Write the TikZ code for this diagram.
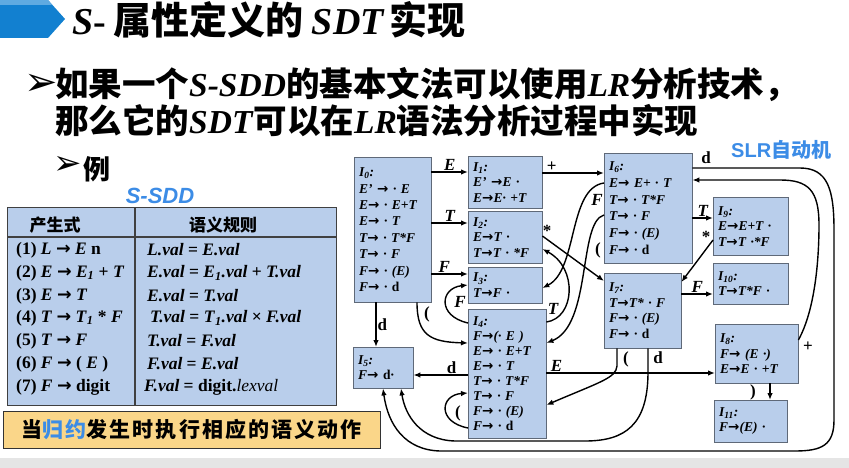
\documentclass[tikz,border=0pt]{standalone}
\usepackage{fontspec}
\setmainfont{Liberation Serif}
\newfontfamily\cjk{Noto Sans CJK SC}
\newfontfamily\cjkwide[LetterSpace=10]{Noto Sans CJK SC}
\newfontfamily\arial{Liberation Sans}
\newfontfamily\dingbat{DejaVu Sans}
\usetikzlibrary{arrows.meta}
\definecolor{boxfill}{RGB}{185,206,235}
\definecolor{boxline}{RGB}{95,105,120}
\definecolor{chevblue}{RGB}{18,128,208}
\definecolor{chevlight}{RGB}{95,170,225}
\definecolor{autoblue}{RGB}{60,140,230}
\definecolor{noteorange}{RGB}{250,214,137}
\newcommand\St[1]{I\textsubscript{#1}:}
\newcommand\zh[1]{{\cjk\bfseries #1}}
\newcommand\en[1]{\textbf{\textit{#1}}}
\newcommand\rarr{{\dingbat\upshape →}}

\begin{document}
\begin{tikzpicture}[
    x=1pt, y=-1pt,
    >={Latex[length=7pt,width=5.5pt]},
    edge/.style={->, line width=1.4pt},
    state/.style={draw=boxline, fill=boxfill, anchor=north west, align=left,
                  inner xsep=5pt, inner ysep=0pt,
                  font=\fontsize{13.5}{15.5}\selectfont\bfseries\itshape},
    lbl/.style={inner sep=1pt, font=\fontsize{17}{17}\selectfont\bfseries\itshape},
    row/.style={anchor=west, inner sep=0pt, font=\fontsize{17.5}{17.5}\selectfont\bfseries},
]
\useasboundingbox (0,0) rectangle (849,468);
\fill[black!10] (0,458) rectangle (849,468);

%% ── title and bullets ───────────────────────────────────────
\fill[chevblue] (0,0) -- (48,0) -- (65,19) -- (48,38) -- (0,38) -- cycle;
\fill[chevlight] (0,0) -- (48,0) -- (52,5) -- (0,5) -- cycle;
\node[anchor=base west, inner sep=0pt, font=\fontsize{38}{38}\selectfont] (title) at (72,35)
  {\en{S}\textbf{-}\hspace{8pt}\zh{属性定义的}\hspace{8pt}\en{SDT}\hspace{4pt}\zh{实现}};

\node[font=\fontsize{40}{40}\selectfont\dingbat] (b1) at (41,85) {➢};
\node[anchor=base west, inner sep=0pt, font=\fontsize{33.5}{33.5}\selectfont] (line1) at (55,97)
  {\zh{如果一个}\en{S-SDD}\zh{的基本文法可以使用}\en{LR}\zh{分析技术，}};
\node[anchor=base west, inner sep=0pt, font=\fontsize{33.5}{33.5}\selectfont] (line2) at (55,134)
  {\zh{那么它的}\en{SDT}\zh{可以在}\en{LR}\zh{语法分析过程中实现}};
\node[font=\fontsize{34}{34}\selectfont\dingbat] (b2) at (68,165) {➢};
\node[anchor=base west, inner sep=0pt, font=\fontsize{27}{27}\selectfont] (eg) at (83,179) {\zh{例}};

\node[anchor=base west, inner sep=0pt, text=autoblue, font=\fontsize{20}{20}\selectfont] (slr) at (731,158)
  {{\arial\bfseries SLR}\zh{自动机}};

%% ── S-SDD table ──────────────────────────────────────────────
\node[text=autoblue, font=\fontsize{22}{22}\selectfont\arial\bfseries\itshape] (sdd) at (160,196) {S-SDD};
\node[draw=black!75, line width=1.2pt, fill=boxfill, anchor=north west,
      minimum width=329pt, minimum height=198pt, inner sep=0pt] (tbl) at (7,207) {};
\draw[black!75, line width=1.5pt] (tbl.west |- 0,237) -- (tbl.east |- 0,237);
\draw[black!75, line width=1.2pt] (tbl.north -| 135,0) -- (tbl.south -| 135,0);
\node[font=\fontsize{17}{17}\selectfont] (hprod) at (55,225) {\zh{产生式}};
\node[font=\fontsize{17}{17}\selectfont] (hrule) at (223,225) {\zh{语义规则}};

\node[row] (p1) at (16,250) {(1) \textit{L} \rarr\ \textit{E} n};
\node[row] (p2) at (16,273) {(2) \textit{E} \rarr\ \textit{E}\textsubscript{\textit{1}} + \textit{T}};
\node[row] (p3) at (16,296) {(3) \textit{E} \rarr\ \textit{T}};
\node[row] (p4) at (16,318) {(4) \textit{T} \rarr\ \textit{T}\textsubscript{\textit{1}} * \textit{F}};
\node[row] (p5) at (16,341) {(5) \textit{T} \rarr\ \textit{F}};
\node[row] (p6) at (16,364) {(6) \textit{F} \rarr\ ( \textit{E} )};
\node[row] (p7) at (16,387) {(7) \textit{F} \rarr\ digit};

\node[row] (r1) at (147,250) {\textit{L.val} = \textit{E.val}};
\node[row] (r2) at (147,273) {\textit{E.val} = \textit{E}\textsubscript{\textit{1}}\textit{.val} + \textit{T.val}};
\node[row] (r3) at (147,296) {\textit{E.val} = \textit{T.val}};
\node[row] (r4) at (150,318) {\textit{T.val} = \textit{T}\textsubscript{\textit{1}}\textit{.val} × \textit{F.val}};
\node[row] (r5) at (147,341) {\textit{T.val} = \textit{F.val}};
\node[row] (r6) at (147,364) {\textit{F.val} = \textit{E.val}};
\node[row] (r7) at (144,387) {\textit{F.val} = digit.\textmd{\textit{lexval}}};

\node[draw=black!80, fill=noteorange, anchor=north west, minimum width=377pt,
      minimum height=37pt, inner sep=0pt, font=\fontsize{21}{21}\selectfont\cjkwide\bfseries] (note) at (3,411)
  {当{\color{autoblue}归约}发生时执行相应的语义动作};

%% ── SLR automaton states ─────────────────────────────────────
\node[state, text width=67pt, minimum height=145pt, font=\fontsize{13.5}{16.4}\selectfont\bfseries\itshape] (I0) at (354,157)
  {\St{0}\\E' \rarr\ · E\\E\rarr\ · E+T\\E\rarr\ · T\\T\rarr\ · T*F\\T\rarr\ · F\\F\rarr\ · (E)\\F\rarr\ · \textup{d}};
\node[state, text width=64pt, minimum height=52pt] (I1) at (468,156)
  {\St{1}\\E' \rarr E ·\\E\rarr E· +T};
\node[state, text width=64pt, minimum height=52pt] (I2) at (468,211)
  {\St{2}\\E\rarr T ·\\T\rarr T · *F};
\node[state, text width=64pt, minimum height=36pt] (I3) at (468,267)
  {\St{3}\\T\rarr F ·};
\node[state, text width=68pt, minimum height=129pt, font=\fontsize{13.5}{15}\selectfont\bfseries\itshape] (I4) at (468,309)
  {\St{4}\\F\rarr (· E )\\E\rarr\ · E+T\\E\rarr\ · T\\T\rarr\ · T*F\\T\rarr\ · F\\F\rarr\ · (E)\\F\rarr\ · \textup{d}};
\node[state, text width=50pt, minimum height=41pt] (I5) at (353,347)
  {\St{5}\\F\rarr\ \textup{d}·};
\node[state, text width=78pt, minimum height=110pt, font=\fontsize{13.5}{16.8}\selectfont\bfseries\itshape] (I6) at (604,153)
  {\St{6}\\E\rarr\ E+ · T\\T\rarr\ · T*F\\T\rarr\ · F\\F\rarr\ · (E)\\F\rarr\ · \textup{d}};
\node[state, text width=67pt, minimum height=75pt] (I7) at (604,273)
  {\St{7}\\T\rarr T* · F\\F\rarr\ · (E)\\F\rarr\ · \textup{d}};
\node[state, text width=73pt, minimum height=59pt] (I8) at (715,324)
  {\St{8}\\F\rarr\ (E ·)\\E\rarr E · +T};
\node[state, text width=65pt, minimum height=58pt] (I9) at (713,197)
  {\St{9}\\E\rarr E+T ·\\T\rarr T ·*F};
\node[state, text width=65pt, minimum height=41pt] (I10) at (713,263)
  {\St{10}\\T\rarr T*F ·};
\node[state, text width=63pt, minimum height=42pt] (I11) at (714,400)
  {\St{11}\\F\rarr (E) ·};

%% ── transitions ──────────────────────────────────────────────
\draw[edge] (I0.east |- 0,172) -- node[lbl,above] (lE0) {E} (I1.west |- 0,172);
\draw[edge] (I0.east |- 0,223) -- node[lbl,above] (lT0) {T} (I2.west |- 0,223);
\draw[edge] (I0.east |- 0,274) -- node[lbl,above,pos=0.35] (lF0) {F} (I3.west |- 0,274);
\draw[edge] (I0.south -| 376,0) -- node[lbl,right] (ld0) {\textup{d}} (I5.north -| 376,0);
\draw[edge] (I0.south -| 417,0) .. controls (417,335) and (430,342) .. (I4.west |- 0,343);
\node[lbl] (lp0) at (427,314) {\textup{(}};

\draw[edge] (I1.east |- 0,173) -- node[lbl,above,pos=0.15] (lplus1) {\textup{+}} (I6.west |- 0,173);
\draw[edge] (I2.east |- 0,236) -- (I7.west |- 0,281);
\node[lbl] (ls2) at (547,231) {\textup{*}};

\draw[edge] (I4.west |- 0,375) -- node[lbl,above,pos=0.3] (ld4) {\textup{d}} (I5.east |- 0,375);
\draw[edge] (I4.west |- 0,323) .. controls (437,316) and (440,288) .. (I3.west |- 0,285);
\node[lbl] (lF4) at (460,302) {F};
\draw[edge] (I4.west |- 0,428) .. controls (437,422) and (440,395) .. (I4.west |- 0,393);
\node[lbl] (lp4) at (458,413) {\textup{(}};
\draw[edge] (I4.east |- 0,322) .. controls (575,318) and (578,268) .. (I2.east |- 0,249);
\node[lbl] (lT4) at (553,309) {T};
\draw[edge] (I4.east |- 0,373) -- node[lbl,above,pos=0.06] (lE4) {E} (I8.west |- 0,373);

\draw[edge] (I6.west |- 0,183) .. controls (568,188) and (578,270) .. (I3.east |- 0,288);
\node[lbl] (lF6) at (597,200) {F};
\draw[edge] (I6.west |- 0,215) .. controls (578,222) and (592,325) .. (I4.east |- 0,343);
\node[lbl] (lp6) at (598,250) {\textup{(}};
\draw[edge] (I6.east |- 0,218) -- node[lbl,above] (lT6) {T} (I9.west |- 0,218);
\draw[edge] (I6.east |- 0,168) -- (800,168) .. controls (828,168) and (834,190) .. (834,230)
  -- (834,420) .. controls (834,445) and (822,451) .. (795,451)
  -- (440,451) .. controls (405,450) and (388,425) .. (I5.south -| 383,0);
\node[lbl] (ld6) at (706,158) {\textup{d}};

\draw[edge] (I7.east |- 0,294) -- node[lbl,above] (lF7) {F} (I10.west |- 0,294);
\draw[edge] (I7.south -| 617,0) -- (617,366) .. controls (616,378) and (600,382) .. (I4.east |- 0,405);
\node[lbl] (lp7) at (626,359) {\textup{(}};
\draw[edge] (I7.south -| 648,0) -- (648,372) .. controls (648,425) and (625,441) .. (585,441)
  -- (455,441) .. controls (420,440) and (405,415) .. (I5.south -| 401,0);
\node[lbl] (ld7) at (658,358) {\textup{d}};

\draw[edge] (I8.south -| 770,0) -- (I11.north -| 770,0);
\node[lbl] (lr8) at (753,392) {\textup{)}};
\draw[edge] (I8.east |- 0,340) .. controls (815,310) and (819,260) .. (819,225)
  .. controls (819,190) and (808,180) .. (780,180) -- (I6.east |- 0,180);
\node[lbl] (lplus8) at (808,347) {\textup{+}};

\draw[edge] (I9.west |- 0,240) -- (I7.east |- 0,282);
\node[lbl] (ls9) at (706,237) {\textup{*}};

\end{tikzpicture}
\end{document}
